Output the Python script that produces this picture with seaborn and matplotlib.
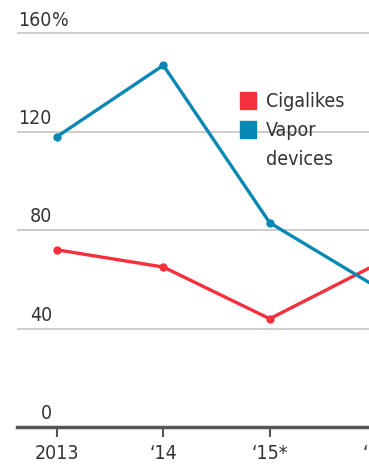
import numpy as np
import pandas as pd
import matplotlib
matplotlib.use("Agg")
import matplotlib.pyplot as plt
import seaborn as sns
from matplotlib.patches import Patch

years = ["2013", "\u201814", "\u201815*", "\u201816"]
cigalikes = [72, 65, 44, 66]
vapor = [118, 147, 83, 57]
series_names = ["Cigalikes", "Vapor devices"]
y_ticks = [0, 40, 80, 120, 160]
colors = {"Cigalikes": "#f5303c", "Vapor devices": "#0a88b5"}

sns.set_style("white")
plt.rcParams['font.family'] = ['DejaVu Sans']
plt.rcParams['font.stretch'] = 'condensed'
fs = 14

df = pd.DataFrame({
    "x": list(range(len(years))) * 2,
    "value": cigalikes + vapor,
    "series": [series_names[0]] * len(years) + [series_names[1]] * len(years),
})

fig = plt.figure(figsize=(3.69, 4.66), dpi=100)
# axes runs past the right edge, like the cropped original
ax = fig.add_axes([17 / 369, 39 / 466, 391 / 369, 406 / 466])

for yt in y_ticks[1:]:
    ax.axhline(yt, color="#c8c8c8", lw=1.3, zorder=0)

sns.lineplot(data=df, x="x", y="value", hue="series", palette=colors,
             marker="o", markersize=6, markeredgewidth=0, lw=2.4,
             legend=False, ax=ax, zorder=3)

ax.set_xlim(-0.376, 3.3)
ax.set_ylim(0, 165)
for s in ["top", "right", "left"]:
    ax.spines[s].set_visible(False)
ax.spines["bottom"].set_color("#555555")
ax.spines["bottom"].set_linewidth(2.5)
ax.set_xticks(range(len(years)))
ax.set_xticklabels(years, fontsize=fs, color="#333333")
ax.tick_params(axis="x", bottom=True, direction="out", length=7, width=1.5,
               color="#555555", pad=5)
ax.set_yticks([])
ax.set_xlabel("")
ax.set_ylabel("")

for yt in y_ticks:
    ax.text(35 / 391, yt + 1.5, str(yt), transform=ax.get_yaxis_transform(),
            ha="right", va="bottom", fontsize=fs, color="#333333")
ax.text(35 / 391, 161.5, "%", transform=ax.get_yaxis_transform(),
        ha="left", va="bottom", fontsize=fs, color="#333333")

handles = [Patch(color=colors[series_names[0]], label="Cigalikes"),
           Patch(color=colors[series_names[1]], label="Vapor"),
           Patch(color="none", label="devices")]
fig.legend(handles=handles, loc="upper left", bbox_to_anchor=(223 / 369, 1 - 74 / 466),
           frameon=False, fontsize=fs, handlelength=0.8, handleheight=1.0,
           handletextpad=0.5, labelspacing=0.5, labelcolor="#333333")

fig.savefig("out.png", dpi=100)
